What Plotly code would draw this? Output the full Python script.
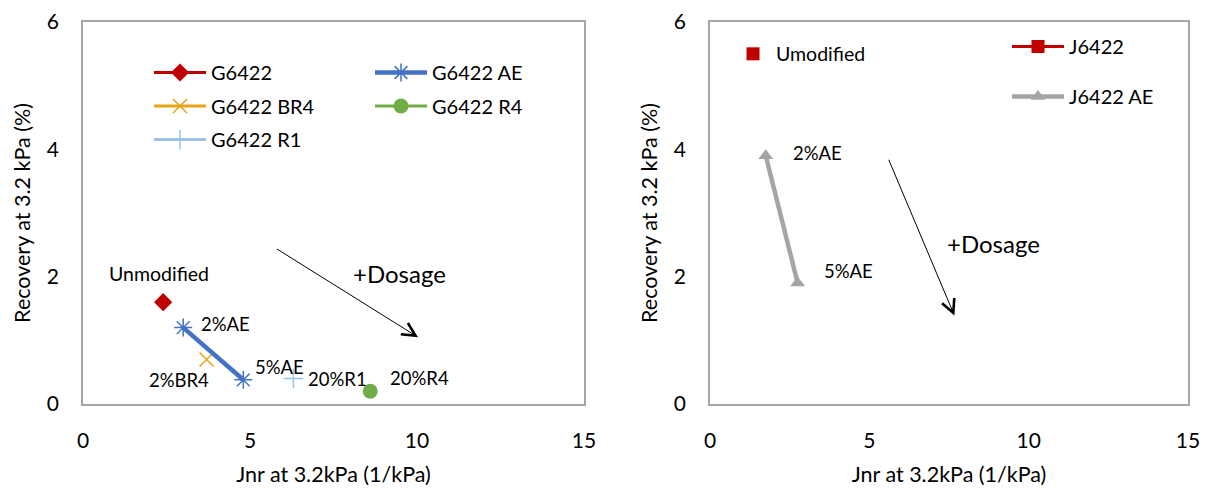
import plotly.graph_objects as go

FONT = "Lato"

# ---- data: left chart (G6422 family) ----
g_unmod_x = [2.4]
g_unmod_y = [1.6]
g_ae_x = [3.0, 4.8]
g_ae_y = [1.2, 0.38]
g_br4_x = [3.7]
g_br4_y = [0.7]
g_r4_x = [8.6]
g_r4_y = [0.2]
g_r1_x = [6.3]
g_r1_y = [0.4]

# ---- data: right chart (J6422 family) ----
j_unmod_x = [1.35]
j_unmod_y = [5.5]
j_ae_x = [1.75, 2.75]
j_ae_y = [3.9, 1.9]

x_ticks = [0, 5, 10, 15]
y_ticks = [0, 2, 4, 6]

fig = go.Figure()

# left traces
fig.add_trace(go.Scatter(x=g_unmod_x, y=g_unmod_y, name="G6422", mode="lines+markers",
                         line=dict(color="#c00000", width=3),
                         marker=dict(symbol="diamond", size=14, color="#c00000"),
                         xaxis="x", yaxis="y", legend="legend", legendgroup="a"))
fig.add_trace(go.Scatter(x=g_br4_x, y=g_br4_y, name="G6422 BR4", mode="lines+markers",
                         line=dict(color="#e8a317", width=3),
                         marker=dict(symbol="x-thin-open", size=14, color="#e8a317",
                                     line=dict(color="#e8a317", width=1.5)),
                         xaxis="x", yaxis="y", legend="legend", legendgroup="b"))
fig.add_trace(go.Scatter(x=g_r1_x, y=g_r1_y, name="G6422 R1", mode="lines+markers",
                         line=dict(color="#9dc3e6", width=3),
                         marker=dict(symbol="cross-thin-open", size=14, color="#9dc3e6",
                                     line=dict(color="#9dc3e6", width=1.5)),
                         xaxis="x", yaxis="y", legend="legend", legendgroup="c"))
fig.add_trace(go.Scatter(x=g_ae_x, y=g_ae_y, name="G6422 AE", mode="lines+markers",
                         line=dict(color="#4472c4", width=4.5),
                         marker=dict(symbol="asterisk-open", size=15, color="#4472c4",
                                     line=dict(color="#4472c4", width=1.5)),
                         xaxis="x", yaxis="y", legend="legend2", legendgroup="d"))
fig.add_trace(go.Scatter(x=g_r4_x, y=g_r4_y, name="G6422 R4", mode="lines+markers",
                         line=dict(color="#70ad47", width=3),
                         marker=dict(symbol="circle", size=15, color="#70ad47"),
                         xaxis="x", yaxis="y", legend="legend2", legendgroup="e"))

# right traces
fig.add_trace(go.Scatter(x=j_unmod_x, y=j_unmod_y, name="J6422", mode="lines+markers",
                         line=dict(color="#c00000", width=3),
                         marker=dict(symbol="square", size=13, color="#c00000"),
                         xaxis="x2", yaxis="y2", legend="legend3", legendgroup="f"))
fig.add_trace(go.Scatter(x=j_ae_x, y=j_ae_y, name="J6422 AE", mode="lines+markers",
                         line=dict(color="#a5a5a5", width=4.5),
                         marker=dict(symbol="triangle-up", size=13, color="#a5a5a5"),
                         xaxis="x2", yaxis="y2", legend="legend3", legendgroup="g"))

W, H = 1207, 498
ax_common = dict(range=[0, 15], tickvals=x_ticks, showgrid=False, zeroline=False,
                 showline=True, linecolor="#a6a6a6", linewidth=1.5, mirror=True,
                 ticks="", ticklabelstandoff=17, automargin=False,
                 tickfont=dict(family=FONT, size=21, color="#000"),
                 title=dict(text="Jnr at 3.2kPa (1/kPa)", standoff=16,
                            font=dict(family=FONT, size=21.5, color="#000")))
ay_common = dict(range=[0, 6], tickvals=y_ticks, showgrid=False, zeroline=False,
                 showline=True, linecolor="#a6a6a6", linewidth=1.5, mirror=True,
                 ticks="", ticklabelstandoff=18, automargin=False,
                 tickfont=dict(family=FONT, size=21, color="#000"),
                 title=dict(text="Recovery at 3.2 kPa (%)", standoff=10,
                            font=dict(family=FONT, size=21.5, color="#000")))

ydom = [(H - 404) / H, (H - 22) / H]
leg_font = dict(family=FONT, size=20, color="#000")
fig.update_layout(
    width=W, height=H,
    margin=dict(l=0, r=0, t=0, b=0, autoexpand=False),
    paper_bgcolor="white", plot_bgcolor="white",
    xaxis=dict(domain=[83 / W, 584 / W], anchor="y", **ax_common),
    yaxis=dict(domain=ydom, anchor="x", **ay_common),
    xaxis2=dict(domain=[710 / W, 1188 / W], anchor="y2", **ax_common),
    yaxis2=dict(domain=ydom, anchor="x2", **ay_common),
    legend=dict(x=149 / W, y=1 - 53 / H, xanchor="left", yanchor="top",
                bgcolor="rgba(0,0,0,0)", tracegroupgap=4.5, itemwidth=52,
                font=leg_font),
    legend2=dict(x=370 / W, y=1 - 53 / H, xanchor="left", yanchor="top",
                 bgcolor="rgba(0,0,0,0)", tracegroupgap=4.5, itemwidth=52,
                 font=leg_font),
    legend3=dict(x=1007 / W, y=1 - 27 / H, xanchor="left", yanchor="top",
                 bgcolor="rgba(0,0,0,0)", tracegroupgap=21, itemwidth=52,
                 font=leg_font),
)

def label(text, x, y, xref, yref, size=18.5):
    fig.add_annotation(text=text, x=x, y=y, xref=xref, yref=yref, showarrow=False,
                       xanchor="center", yanchor="middle",
                       font=dict(family=FONT, size=size, color="#000"))

# left labels
label("Unmodified", 2.28, 2.05, "x", "y", size=19.5)
label("2%AE", 4.27, 1.25, "x", "y")
label("2%BR4", 2.87, 0.37, "x", "y")
label("5%AE", 5.87, 0.58, "x", "y")
label("20%R1", 7.63, 0.40, "x", "y")
label("20%R4", 10.07, 0.41, "x", "y")
label("+Dosage", 9.49, 2.05, "x", "y", size=24)

# right labels
label("Umodified", 3.47, 5.5, "x2", "y2", size=19.5)
label("2%AE", 3.37, 3.94, "x2", "y2")
label("5%AE", 4.35, 2.09, "x2", "y2")
label("+Dosage", 8.91, 2.52, "x2", "y2", size=24)

# arrows
fig.add_annotation(x=10.03, y=1.05, ax=5.76, ay=2.45, xref="x", yref="y", axref="x", ayref="y",
                   text="", showarrow=True, arrowhead=5, arrowsize=2.6, arrowwidth=1, arrowcolor="#000")
fig.add_annotation(x=7.67, y=1.39, ax=5.59, ay=3.86, xref="x2", yref="y2", axref="x2", ayref="y2",
                   text="", showarrow=True, arrowhead=5, arrowsize=2.6, arrowwidth=1, arrowcolor="#000")

fig.write_html("out.html")
